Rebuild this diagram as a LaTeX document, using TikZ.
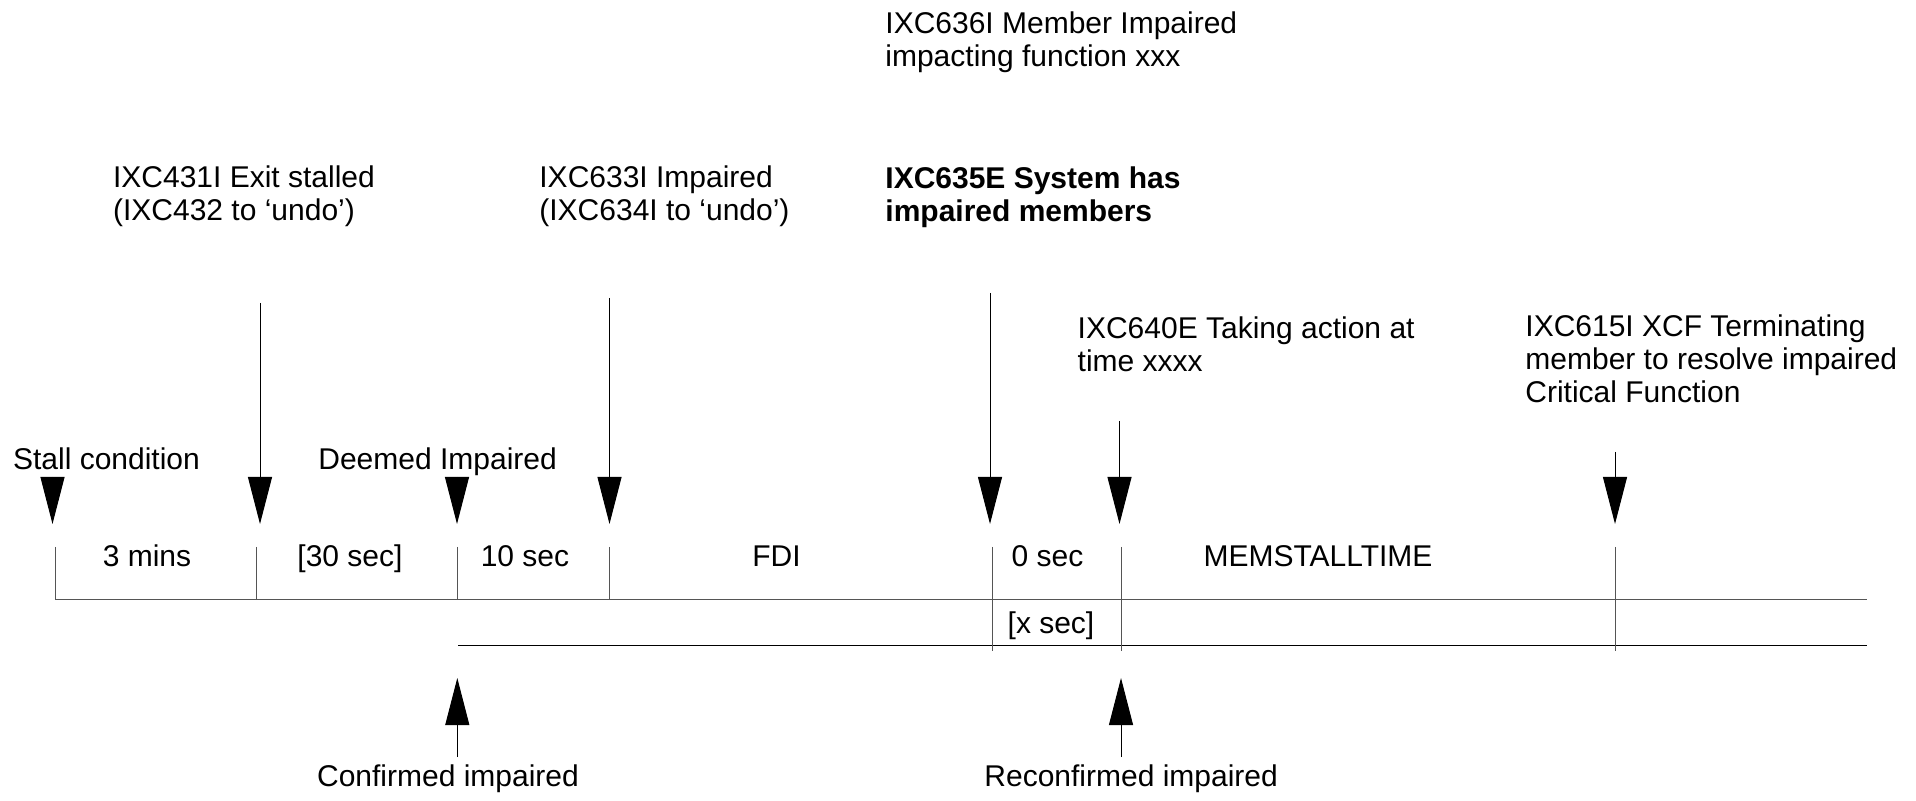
\documentclass[tikz,border=0pt]{standalone}
\usepackage{fontspec}
\setmainfont{Liberation Sans}
\usetikzlibrary{arrows.meta}
\definecolor{scalegray}{RGB}{85,85,85}
\begin{document}
\begin{tikzpicture}[x=0.5pt,y=-0.5pt,
  lbl/.style={inner sep=0pt, font=\fontsize{15}{16.5}\selectfont},
  msg/.style={lbl, anchor=base west},
  span/.style={lbl, anchor=base},
  tickline/.style={draw=scalegray, line width=0.5pt},
  axisline/.style={line width=0.5pt},
  pointer/.style={line width=0.5pt, -{Triangle[width=12pt,length=23.5pt]}},
]
\useasboundingbox (0,0) rectangle (1916,801);

% --- messages above the time line ---
\node[msg] (m636) at (885,33.3) {\begin{tabular}[t]{@{}l@{}}IXC636I Member Impaired\\impacting function xxx\end{tabular}};
\node[msg] (m431) at (112.7,187.3) {\begin{tabular}[t]{@{}l@{}}IXC431I Exit stalled\\(IXC432 to ‘undo’)\end{tabular}};
\node[msg] (m633) at (539,187.3) {\begin{tabular}[t]{@{}l@{}}IXC633I Impaired\\(IXC634I to ‘undo’)\end{tabular}};
\node[msg] (m635) at (885,188.3) {\bfseries\begin{tabular}[t]{@{}l@{}}IXC635E System has\\impaired members\end{tabular}};
\node[msg] (m640) at (1077.3,338.3) {\begin{tabular}[t]{@{}l@{}}IXC640E Taking action at\\time xxxx\end{tabular}};
\node[msg] (m615) at (1525,336.7) {\begin{tabular}[t]{@{}l@{}}IXC615I XCF Terminating\\member to resolve impaired\\Critical Function\end{tabular}};
\node[msg] (stall) at (12.7,469.3) {Stall condition};
\node[msg] (deemed) at (318,469.3) {Deemed Impaired};

% --- time line ---
\coordinate (u0) at (55,599);
\coordinate (u1) at (1867,599);
\coordinate (l0) at (458,645);
\coordinate (l1) at (1867,645);
\draw[axisline, draw=scalegray] (u0) -- (u1);
\draw[axisline] (l0) -- (l1);

% interval boundaries
\foreach \x in {55,256,457,609}
  \draw[tickline] (\x,547) -- (\x,599);
\foreach \x in {992,1121,1615}
  \draw[tickline] (\x,547) -- (\x,651);

% interval labels
\node[span] (i3m)  at (147,566.7)  {3 mins};
\node[span] (i30)  at (350,566.7)  {[30 sec]};
\node[span] (i10)  at (525,566.7)  {10 sec};
\node[span] (ifdi) at (776.5,566.7) {FDI};
\node[span] (i0)   at (1047.5,566.7) {0 sec};
\node[span] (imem) at (1318,566.7) {MEMSTALLTIME};
\node[span] (ix)   at (1051,633)   {[x sec]};

% --- event pointers (down) ---
\coordinate (sStall) at (52.5,477);   \coordinate (tStall) at (52.5,524);
\coordinate (s431)   at (260,303);    \coordinate (t431)   at (260,524);
\coordinate (sDeem)  at (457,477);    \coordinate (tDeem)  at (457,524);
\coordinate (s633)   at (609.5,298);  \coordinate (t633)   at (609.5,524);
\coordinate (s635)   at (990,293);    \coordinate (t635)   at (990,524);
\coordinate (s640)   at (1119.5,421); \coordinate (t640)   at (1119.5,524);
\coordinate (s615)   at (1615,452);   \coordinate (t615)   at (1615,524);
\foreach \p in {Stall,431,Deem,633,635,640,615}
  \draw[pointer] (s\p) -- (t\p);

% --- confirmation pointers (up) ---
\node[msg] (conf)   at (316.7,786.7) {Confirmed impaired};
\node[msg] (reconf) at (984,786.7)   {Reconfirmed impaired};
\coordinate (sConf)   at (457.3,757); \coordinate (tConf)   at (457.3,678);
\coordinate (sReconf) at (1121,757);  \coordinate (tReconf) at (1121,678);
\draw[pointer] (sConf) -- (tConf);
\draw[pointer] (sReconf) -- (tReconf);
\end{tikzpicture}
\end{document}
